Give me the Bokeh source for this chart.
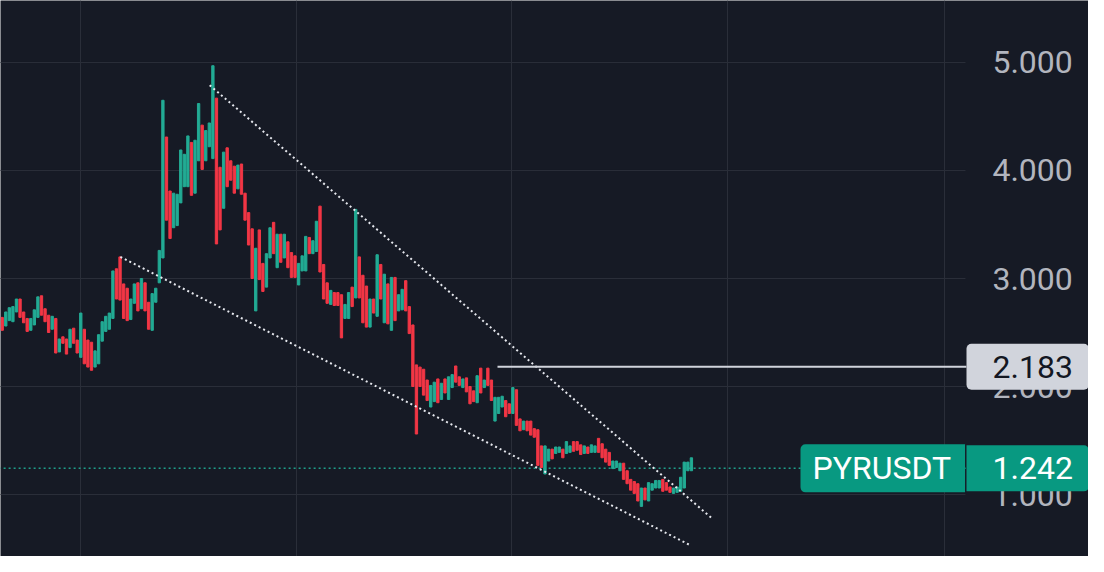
from bokeh.plotting import figure
from bokeh.models import (Range1d, FixedTicker, Grid, Label, ColumnDataSource)
from bokeh.embed import file_html
from bokeh.resources import INLINE
from bokeh.core.properties import value

# ---------------- data ----------------
opens = [2.64, 2.56, 2.61, 2.60, 2.69, 2.81, 2.69, 2.63, 2.52, 2.57,
         2.64, 2.84, 2.72, 2.66, 2.53, 2.63, 2.32, 2.46, 2.44, 2.36,
         2.54, 2.43, 2.27, 2.53, 2.43, 2.41, 2.18, 2.21, 2.42, 2.51,
         2.53, 2.63, 3.09, 3.20, 2.95, 2.91, 2.62, 2.77, 2.96, 2.72,
         2.96, 2.78, 2.52, 2.78, 2.96, 3.19, 4.31, 3.81, 3.47, 3.49,
         3.70, 3.85, 3.85, 4.26, 3.79, 4.09, 4.42, 4.09, 4.22, 4.11,
         4.67, 4.03, 3.65, 4.21, 4.09, 4.04, 3.83, 4.06, 3.79, 3.61,
         3.46, 2.70, 3.45, 3.14, 2.92, 3.19, 3.52, 3.10, 3.41, 3.19,
         3.34, 3.24, 3.21, 2.94, 3.07, 3.07, 3.38, 3.23, 3.25, 3.67,
         3.13, 2.96, 2.76, 2.87, 2.87, 2.85, 2.63, 2.63, 2.92, 2.82,
         3.20, 3.03, 2.93, 2.55, 2.81, 2.65, 3.13, 2.59, 2.95, 2.52,
         3.01, 2.70, 2.71, 2.98, 2.74, 2.57, 2.20, 2.18, 2.16, 2.06,
         1.81, 1.86, 2.07, 1.88, 2.07, 1.88, 1.99, 2.19, 2.09, 1.99,
         2.08, 2.00, 1.96, 1.85, 2.17, 1.99, 2.17, 2.06, 1.68, 1.75,
         1.81, 1.87, 1.84, 1.75, 1.97, 1.70, 1.60, 1.68, 1.68, 1.61,
         1.60, 1.45, 1.19, 1.31, 1.42, 1.38, 1.39, 1.42, 1.38, 1.39,
         1.49, 1.49, 1.46, 1.38, 1.44, 1.39, 1.39, 1.52, 1.47, 1.42,
         1.39, 1.24, 1.25, 1.22, 1.29, 1.22, 1.14, 1.12, 1.10, 0.89,
         1.06, 0.94, 1.04, 1.06, 1.06, 1.14, 1.11, 1.07, 1.01, 1.02,
         1.03, 1.06, 1.22, 1.22]

closes = [2.52, 2.69, 2.73, 2.74, 2.81, 2.64, 2.59, 2.51, 2.63, 2.71,
          2.83, 2.66, 2.60, 2.50, 2.65, 2.31, 2.44, 2.40, 2.30, 2.53,
          2.40, 2.31, 2.68, 2.21, 2.18, 2.15, 2.33, 2.48, 2.60, 2.65,
          2.68, 3.07, 2.81, 2.80, 2.63, 2.61, 2.81, 2.95, 2.70, 3.00,
          2.70, 2.53, 2.86, 2.91, 3.26, 4.65, 3.54, 3.37, 3.79, 3.78,
          4.19, 4.15, 4.32, 3.77, 4.28, 4.62, 4.01, 4.37, 4.44, 4.97,
          3.32, 3.45, 4.17, 3.85, 3.91, 3.79, 4.05, 3.78, 3.54, 3.31,
          3.00, 3.28, 2.99, 2.88, 3.23, 3.47, 3.23, 3.41, 3.15, 3.41,
          3.10, 3.01, 3.01, 3.14, 3.21, 3.39, 3.23, 3.35, 3.53, 3.06,
          2.81, 2.77, 2.89, 2.75, 2.75, 2.45, 2.76, 2.87, 2.74, 3.64,
          2.82, 2.59, 2.55, 2.81, 2.68, 3.22, 2.81, 3.04, 2.58, 3.01,
          2.61, 2.85, 2.90, 2.70, 2.49, 2.00, 1.56, 2.00, 1.92, 1.87,
          2.01, 2.04, 1.85, 2.03, 1.94, 2.09, 2.11, 2.04, 2.01, 2.07,
          1.95, 1.84, 1.86, 2.10, 1.94, 2.06, 2.01, 1.87, 1.90, 1.90,
          1.91, 1.72, 1.75, 1.99, 1.64, 1.59, 1.68, 1.59, 1.55, 1.53,
          1.27, 1.25, 1.45, 1.42, 1.33, 1.44, 1.44, 1.34, 1.49, 1.45,
          1.40, 1.41, 1.37, 1.45, 1.38, 1.46, 1.45, 1.39, 1.34, 1.30,
          1.27, 1.31, 1.31, 1.29, 1.14, 1.10, 1.04, 1.01, 0.94, 1.06,
          0.95, 1.11, 1.10, 1.13, 1.13, 1.03, 1.04, 1.02, 1.06, 1.07,
          1.16, 1.30, 1.30, 1.34]

price_ticks = [1, 2, 3, 4, 5]
price_labels = ["1.000", "2.000", "3.000", "4.000", "5.000"]
time_grid = [22, 82.5, 142.5, 203, 264]

symbol = "PYRUSDT"
last_price = 1.242
level_price = 2.183

# chart-space extents (bar-index units)
plot_x = [-0.476, 304.2]        # visible x range
plot_y = [0.426, 5.574]         # visible price range
pane_x = [-1, 269.75]           # price pane (left of the scale)
scale_label_x = 277.3           # left edge of scale labels
level_x = [138.7, 270]
last_line_x = [-1, 300]

upper_trend_x = [58.1, 199.1]
upper_trend_y = [4.79, 0.77]
lower_trend_x = [33.1, 192.7]
lower_trend_y = [3.20, 0.53]

# ---------------- style ----------------
BG = "#161a25"
GRID = "#2a2e39"
UP = "#22ab94"
DOWN = "#f23645"
AXIS_TXT = "#b2b5be"
FONT = "Roboto"

xs = list(range(len(opens)))
src = ColumnDataSource(dict(
    x=xs,
    top=[max(o, c) for o, c in zip(opens, closes)],
    bot=[min(o, c) for o, c in zip(opens, closes)],
    color=[UP if c >= o else DOWN for o, c in zip(opens, closes)],
))

p = figure(width=1088, height=556, output_backend="svg", toolbar_location=None,
           x_range=Range1d(*plot_x), y_range=Range1d(*plot_y),
           x_axis_location=None, y_axis_location=None, min_border=0)
p.center = []   # drop default grids
p.background_fill_color = BG
p.border_fill_color = BG
p.outline_line_color = None

# vertical time grid
p.add_layout(Grid(dimension=0, ticker=FixedTicker(ticks=time_grid),
                  grid_line_color=GRID, grid_line_width=1))
# horizontal price grid, limited to the price pane
p.segment(x0=pane_x[0], x1=pane_x[1], y0=price_ticks, y1=price_ticks,
          line_color=GRID, line_width=1)

# price scale labels
p.text(x=[scale_label_x] * len(price_ticks), y=price_ticks, text=price_labels,
       text_font=value(FONT), text_font_size="32px", text_color=AXIS_TXT,
       text_align="left", text_baseline="middle")

# last price dotted line
p.line(last_line_x, [last_price, last_price], line_color="#1f9e89",
       line_width=1.5, line_dash="2 3")

# bars
p.vbar(x="x", bottom="bot", top="top", width=0.65, color="color", source=src)

# trend lines (dotted)
p.line(upper_trend_x, upper_trend_y, line_color="#e6e8ee", line_width=2, line_dash="2 3")
p.line(lower_trend_x, lower_trend_y, line_color="#e6e8ee", line_width=2, line_dash="2 3")

# horizontal level
p.line(level_x, [level_price, level_price], line_color="#d1d4dc", line_width=2)

# price labels
PAD_V = 12
p.add_layout(Label(x=966, x_units="screen", y=level_price, text=f"{level_price:.3f}",
                   text_font=FONT, text_font_size="32px", text_color="#131722",
                   text_align="left", text_baseline="middle",
                   background_fill_color="#d1d4dc",
                   padding=dict(left=26, right=16, top=PAD_V, bottom=PAD_V),
                   border_radius=5))
p.add_layout(Label(x=800, x_units="screen", y=last_price, text=symbol,
                   text_font=FONT, text_font_size="32px", text_color="#ffffff",
                   text_align="left", text_baseline="middle",
                   background_fill_color="#089981",
                   padding=dict(left=12, right=14, top=5, bottom=5),
                   border_radius=dict(top_left=5, bottom_left=5, top_right=0, bottom_right=0)))
p.add_layout(Label(x=966, x_units="screen", y=last_price, text=f"{last_price:.3f}",
                   text_font=FONT, text_font_size="32px", text_color="#ffffff",
                   text_align="left", text_baseline="middle",
                   background_fill_color="#089981",
                   padding=dict(left=26, right=16, top=PAD_V, bottom=PAD_V),
                   border_radius=dict(top_left=0, bottom_left=0, top_right=5, bottom_right=5)))

open("out.html", "w").write(file_html(p, INLINE))
